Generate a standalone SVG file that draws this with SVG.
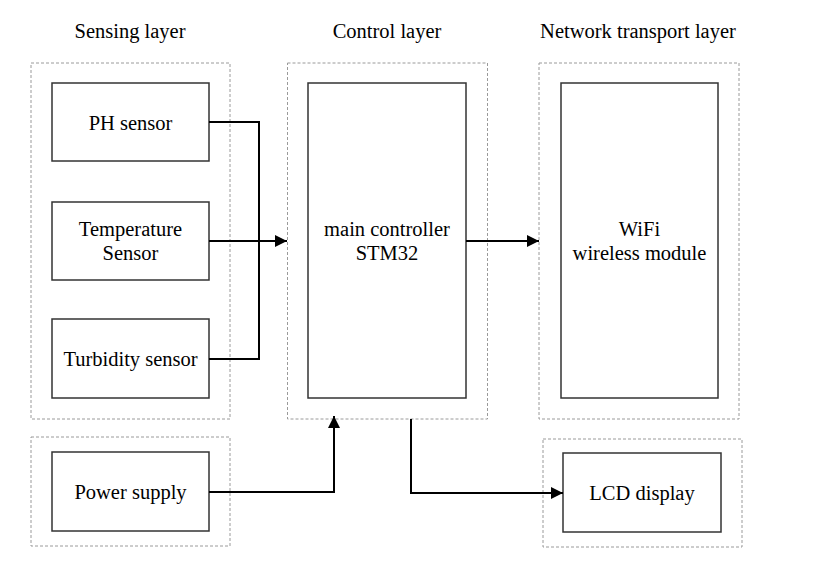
<svg xmlns="http://www.w3.org/2000/svg" width="823" height="572" viewBox="0 0 823 572">
<style>
.grp{fill:none;stroke:#9a9a9a;stroke-width:1;stroke-dasharray:3,2}
.box{fill:#fff;stroke:#333;stroke-width:1.5}
.t{font-family:"Liberation Serif","Times New Roman",serif;font-size:20.5px;fill:#000;text-anchor:middle}
.c{fill:none;stroke:#000;stroke-width:2}
</style>
<defs>
<marker id="arr" viewBox="0 0 10 10" refX="10" refY="5" markerWidth="6.5" markerHeight="6" markerUnits="strokeWidth" orient="auto">
<path d="M0,0 L10,5 L0,10 z" fill="#000"/>
</marker>
</defs>
<rect width="823" height="572" fill="#fff"/>
<g id="titles">
<text class="t" x="130" y="38">Sensing layer</text>
<text class="t" x="387" y="38">Control layer</text>
<text class="t" x="638" y="38">Network transport layer</text>
</g>
<g id="groups">
<rect class="grp" x="31" y="63" width="199" height="356"/>
<rect class="grp" x="31" y="437" width="199" height="109"/>
<rect class="grp" x="287.5" y="63" width="200" height="356"/>
<rect class="grp" x="539" y="63" width="200" height="356"/>
<rect class="grp" x="543" y="439" width="199" height="108"/>
</g>
<g id="ph">
<rect class="box" x="52" y="83" width="157" height="78"/>
<text class="t" x="130.5" y="130">PH sensor</text>
</g>
<g id="temp">
<rect class="box" x="52" y="202" width="157" height="78"/>
<text class="t" x="130.5" y="236">Temperature</text>
<text class="t" x="130.5" y="260">Sensor</text>
</g>
<g id="turb">
<rect class="box" x="52" y="319" width="157" height="79"/>
<text class="t" x="130.5" y="366">Turbidity sensor</text>
</g>
<g id="power">
<rect class="box" x="52" y="452" width="157" height="79"/>
<text class="t" x="130.5" y="499">Power supply</text>
</g>
<g id="mcu">
<rect class="box" x="308" y="83" width="158" height="315"/>
<text class="t" x="387" y="236">main controller</text>
<text class="t" x="387" y="260">STM32</text>
</g>
<g id="wifi">
<rect class="box" x="561" y="83" width="157" height="315"/>
<text class="t" x="639.5" y="236">WiFi</text>
<text class="t" x="639.5" y="260">wireless module</text>
</g>
<g id="lcd">
<rect class="box" x="563" y="453" width="158" height="79"/>
<text class="t" x="642" y="500">LCD display</text>
</g>
<g id="connectors">
<polyline class="c" points="209,122 259,122 259,359 209,359"/>
<line class="c" x1="209" y1="241" x2="287" y2="241" marker-end="url(#arr)"/>
<line class="c" x1="466" y1="241" x2="539" y2="241" marker-end="url(#arr)"/>
<polyline class="c" points="209,492 334,492 334,416" marker-end="url(#arr)"/>
<polyline class="c" points="411,419 411,493 563,493" marker-end="url(#arr)"/>
</g>
</svg>
